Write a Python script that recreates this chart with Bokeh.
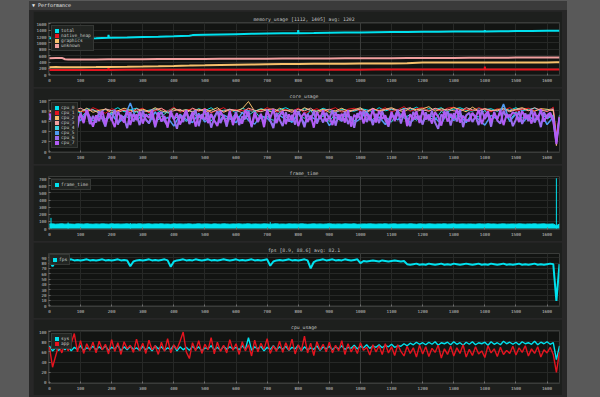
from bokeh.plotting import figure
from bokeh.layouts import column
from bokeh.models import Div, Legend, LegendItem, Span, FixedTicker, Range1d
from bokeh.embed import file_html
from bokeh.resources import INLINE

# ---------------- data ----------------
x_ticks = list(range(0, 1601, 100))

mem_frames = [0, 20, 40, 50, 60, 100, 150, 189, 190, 191, 250, 300, 350, 400, 450,
              460, 500, 550, 600, 650, 700, 750, 799, 800, 801, 850, 900, 950, 1000, 1050,
              1100, 1150, 1200, 1250, 1300, 1350, 1399, 1400, 1401, 1450, 1500, 1550, 1600, 1630, 1640]
mem_total = [1150, 1152, 1148, 1142, 1140, 1140, 1150, 1160, 1250, 1160,
             1172, 1185, 1195, 1210, 1228, 1245, 1255, 1265, 1275, 1285,
             1295, 1302, 1306, 1405, 1306, 1312, 1320, 1325, 1330, 1335,
             1340, 1345, 1350, 1352, 1355, 1358, 1360, 1400, 1360, 1365,
             1370, 1372, 1378, 1380, 1385]
mem_native_heap = [150, 150, 151, 152, 152, 154, 155, 156, 240, 156,
                   157, 158, 158, 159, 160, 160, 160, 161, 161, 162,
                   162, 162, 163, 163, 163, 163, 164, 164, 164, 165,
                   165, 165, 166, 166, 166, 166, 167, 260, 167, 167,
                   167, 168, 168, 168, 168]
mem_graphics = [240, 245, 242, 236, 235, 238, 244, 250, 250, 250,
                255, 262, 270, 280, 292, 295, 300, 310, 318, 325,
                332, 338, 342, 342, 342, 345, 348, 350, 352, 354,
                356, 360, 385, 386, 387, 388, 388, 388, 388, 389,
                390, 390, 391, 392, 392]
mem_unknown = [520, 525, 530, 490, 480, 482, 485, 487, 487, 487,
               490, 492, 494, 496, 498, 499, 500, 502, 504, 506,
               508, 510, 512, 512, 512, 514, 516, 518, 520, 522,
               524, 526, 528, 530, 532, 534, 536, 536, 536, 538,
               540, 542, 544, 545, 546]
mem_names = ["total", "native_heap", "graphics", "unknown"]

# cores 0-5 sampled every 20 frames, cores 6-7 every 10 frames
core_frames = list(range(0, 1621, 20)) + [1630, 1640]
step_frames = list(range(0, 1641, 10))
cpu_0 = [80, 83, 78, 85, 81, 76, 84, 82, 77, 83, 80, 86,
         78, 82, 85, 79, 81, 84, 76, 80, 85, 79, 82, 78,
         84, 80, 86, 77, 81, 83, 76, 85, 80, 79, 84, 81,
         78, 82, 86, 80, 77, 84, 81, 79, 85, 80, 76, 83,
         81, 79, 84, 82, 78, 86, 80, 83, 79, 85, 81, 87,
         80, 84, 82, 86, 78, 83, 86, 81, 79, 85, 82, 84,
         79, 84, 81, 86, 80, 83, 85, 79, 82, 84, 30, 72]
cpu_1 = [77, 81, 85, 76, 83, 79, 77, 86, 81, 75, 84, 80,
         82, 78, 81, 85, 76, 80, 84, 79, 87, 77, 81, 84,
         79, 84, 76, 81, 86, 78, 82, 80, 84, 76, 80, 86,
         81, 77, 83, 79, 85, 76, 80, 84, 78, 82, 86, 77,
         83, 85, 80, 77, 84, 81, 86, 78, 82, 88, 79, 84,
         86, 80, 84, 79, 85, 87, 81, 83, 80, 86, 82, 78,
         84, 81, 86, 79, 83, 85, 80, 84, 78, 87, 35, 70]
cpu_2 = [81, 76, 84, 79, 82, 78, 85, 77, 81, 83, 76, 80,
         85, 81, 78, 83, 79, 86, 80, 76, 84, 80, 82, 78,
         83, 78, 81, 86, 77, 82, 80, 84, 98, 79, 83, 81,
         76, 85, 80, 82, 78, 86, 81, 79, 83, 77, 80, 85,
         79, 82, 86, 77, 84, 80, 83, 86, 81, 78, 85, 82,
         84, 88, 79, 84, 81, 86, 83, 78, 87, 80, 84, 80,
         82, 85, 80, 83, 86, 81, 79, 84, 83, 80, 12, 68]
cpu_3 = [78, 83, 80, 76, 81, 85, 79, 82, 75, 84, 80, 77,
         81, 76, 84, 80, 78, 82, 85, 77, 80, 83, 75, 85,
         80, 84, 77, 82, 79, 83, 81, 76, 85, 81, 78, 82,
         84, 79, 81, 77, 83, 80, 85, 76, 81, 83, 79, 80,
         77, 81, 83, 79, 85, 78, 82, 84, 80, 83, 86, 79,
         82, 79, 85, 81, 83, 80, 78, 86, 82, 80, 84, 81,
         80, 83, 78, 82, 84, 80, 86, 81, 79, 83, 28, 66]
cpu_4 = [68, 62, 75, 58, 71, 66, 79, 60, 73, 64, 77, 57,
         70, 65, 80, 61, 74, 56, 69, 78, 63, 72, 59, 76,
         66, 74, 60, 79, 67, 62, 75, 58, 71, 80, 64, 69,
         61, 77, 68, 57, 73, 65, 81, 62, 70, 59, 75, 67,
         72, 60, 78, 66, 63, 76, 69, 58, 80, 65, 73, 61,
         74, 67, 62, 79, 70, 64, 77, 59, 72, 68, 81, 63,
         69, 75, 61, 78, 66, 72, 58, 76, 64, 71, 25, 67]
cpu_5 = [64, 58, 72, 54, 68, 61, 76, 52, 70, 59, 74, 56,
         66, 95, 62, 71, 55, 78, 60, 67, 50, 73, 63, 57,
         75, 58, 69, 53, 72, 65, 57, 77, 61, 54, 70, 66,
         52, 71, 63, 58, 76, 55, 68, 62, 74, 51, 67, 60,
         70, 57, 64, 79, 59, 68, 53, 73, 62, 76, 56, 69,
         58, 72, 66, 54, 78, 61, 70, 57, 75, 63, 52, 71,
         64, 93, 59, 74, 56, 69, 62, 77, 53, 68, 22, 63]
cpu_6 = [62, 78, 55, 74, 50, 69, 80, 58, 72, 47, 76, 60, 81, 54, 70,
         57, 79, 64, 49, 75, 61, 82, 53, 71, 66, 46, 77, 59, 73, 52,
         80, 63, 56, 74, 48, 70, 78, 60, 51, 76, 65, 45, 72, 58, 79,
         54, 68, 81, 50, 73, 62, 77, 47, 66, 79, 56, 71, 49, 75, 60,
         78, 52, 69, 64, 80, 48, 74, 58, 71, 55, 82, 61, 46, 76, 63,
         50, 77, 59, 72, 53, 79, 66, 48, 74, 62, 80, 55, 70, 57, 76,
         65, 81, 51, 73, 60, 78, 54, 69, 47, 75, 63, 80, 58, 72, 52,
         74, 56, 79, 62, 49, 71, 67, 82, 55, 76, 60, 50, 78, 64, 70,
         53, 77, 61, 80, 57, 45, 73, 66, 79, 51, 75, 59, 82, 48, 71,
         76, 58, 69, 52, 81, 64, 74, 49, 78, 61, 55, 80, 67, 72, 50,
         63, 79, 54, 75, 60, 82, 57, 71, 48, 77, 65, 73, 59, 20, 66]
cpu_7 = [75, 58, 81, 64, 52, 77, 68, 50, 79, 61, 73, 56, 82, 66, 49,
         71, 60, 80, 54, 76, 63, 48, 78, 67, 57, 81, 52, 74, 62, 79,
         55, 73, 66, 82, 51, 77, 59, 70, 47, 80, 63, 75, 53, 68, 81,
         60, 78, 49, 72, 65, 83, 56, 74, 61, 50, 79, 67, 57, 80, 52,
         72, 63, 55, 81, 69, 51, 77, 60, 74, 48, 79, 66, 83, 56, 71,
         79, 54, 73, 61, 82, 50, 68, 76, 58, 71, 47, 78, 64, 81, 59,
         68, 52, 77, 63, 74, 57, 81, 49, 72, 66, 79, 55, 76, 61, 83,
         57, 80, 64, 71, 53, 78, 60, 75, 67, 82, 50, 73, 62, 79, 56,
         81, 63, 72, 55, 77, 68, 51, 80, 59, 74, 65, 83, 57, 70, 62,
         60, 76, 66, 82, 54, 71, 79, 58, 75, 63, 81, 52, 73, 68, 77,
         74, 58, 80, 65, 72, 55, 78, 62, 83, 59, 71, 76, 64, 15, 68]
core_names = ["cpu_0", "cpu_1", "cpu_2", "cpu_3", "cpu_4", "cpu_5", "cpu_6", "cpu_7"]

frame_time = [63, 66, 61, 64, 67, 62, 65, 63, 60, 66, 64, 62, 67, 63, 61,
              65, 62, 66, 64, 61, 67, 63, 65, 62, 64, 66, 60, 65, 63, 67,
              62, 64, 66, 61, 65, 63, 67, 62, 64, 60, 66, 63, 65, 62, 64,
              66, 61, 63, 67, 62, 65, 64, 60, 66, 63, 62, 67, 64, 61, 65,
              63, 66, 62, 64, 67, 61, 65, 63, 62, 66, 64, 60, 65, 67, 62,
              64, 61, 66, 63, 65, 62, 67, 64, 60, 63, 66, 62, 65, 61, 64,
              67, 63, 62, 65, 61, 66, 64, 63, 67, 60, 62, 65, 63, 66, 64,
              61, 65, 63, 67, 62, 64, 66, 61, 63, 65, 62, 67, 64, 60, 66,
              63, 62, 66, 64, 61, 65, 63, 67, 62, 64, 66, 61, 63, 65, 62,
              65, 63, 61, 66, 64, 62, 67, 63, 65, 60, 64, 66, 62, 63, 65,
              62, 66, 64, 61, 65, 63, 67, 62, 64, 66, 61, 63, 65, 40, 64]
spike_frames = [5, 60, 260, 710, 1630]
spike_values = [150, 85, 78, 90, 705]

fps = [86, 74, 84, 85, 86, 85, 86, 87, 85, 86, 85, 86, 87, 85, 86,
       85, 86, 87, 85, 86, 85, 86, 87, 85, 86, 85, 74, 83, 85, 86,
       85, 86, 87, 85, 86, 85, 86, 87, 85, 73, 83, 85, 86, 87, 85,
       86, 85, 87, 86, 85, 86, 87, 85, 86, 85, 86, 87, 86, 85, 86,
       87, 85, 86, 85, 86, 87, 85, 86, 85, 86, 87, 75, 83, 85, 86,
       85, 86, 87, 85, 86, 85, 86, 87, 85, 70, 82, 85, 86, 87, 85,
       86, 87, 85, 86, 85, 87, 86, 85, 86, 87, 80, 84, 83, 84, 85,
       84, 83, 85, 84, 83, 84, 85, 84, 83, 84, 78, 77, 78, 79, 77,
       78, 77, 79, 78, 77, 78, 79, 77, 78, 77, 79, 78, 77, 78, 79,
       78, 77, 78, 79, 77, 78, 77, 79, 78, 77, 78, 79, 77, 78, 77,
       78, 79, 77, 78, 77, 78, 79, 77, 78, 77, 78, 79, 78, 9, 78]

cpu_sys = [72, 62, 68, 63, 70, 64, 71, 62, 69, 65, 72, 63, 68, 66, 71,
           64, 70, 65, 72, 63, 69, 66, 73, 62, 70, 64, 71, 65, 68, 63,
           71, 64, 69, 62, 72, 66, 70, 63, 68, 65, 73, 62, 70, 64, 69,
           63, 71, 65, 70, 62, 68, 66, 72, 64, 69, 63, 71, 65, 70, 66,
           69, 64, 72, 65, 88, 63, 70, 66, 71, 62, 69, 65, 72, 64, 70,
           65, 71, 63, 69, 66, 73, 62, 70, 64, 68, 65, 72, 63, 70, 66,
           71, 64, 70, 66, 72, 65, 69, 67, 73, 66, 71, 68, 74, 67, 72,
           69, 74, 68, 73, 70, 75, 69, 72, 71, 76, 72, 77, 74, 79, 75,
           78, 74, 79, 75, 80, 73, 78, 76, 79, 74, 80, 75, 78, 73, 79,
           75, 80, 74, 78, 76, 79, 73, 80, 75, 78, 74, 81, 76, 79, 75,
           79, 74, 80, 76, 78, 75, 81, 74, 79, 76, 80, 75, 78, 45, 72]
cpu_app = [70, 30, 52, 74, 58, 80, 62, 77, 96, 60, 82, 57, 76, 63, 79,
           58, 81, 64, 75, 56, 84, 61, 78, 55, 80, 66, 73, 59, 85, 62,
           77, 57, 83, 64, 72, 55, 79, 61, 86, 58, 74, 65, 81, 99, 60,
           47, 78, 62, 82, 57, 75, 64, 88, 56, 79, 61, 73, 58, 84, 63,
           76, 55, 80, 62, 74, 52, 83, 60, 77, 65, 86, 57, 72, 61, 81,
           59, 78, 63, 85, 56, 74, 62, 91, 58, 77, 53, 80, 64, 75, 60,
           79, 58, 73, 62, 82, 55, 76, 60, 71, 57, 78, 63, 69, 54, 74,
           60, 72, 55, 76, 58, 70, 53, 74, 61, 52, 71, 57, 68, 50, 73,
           56, 70, 51, 67, 59, 73, 48, 66, 55, 71, 52, 68, 57, 74, 50,
           65, 53, 70, 56, 62, 49, 72, 58, 66, 51, 69, 55, 63, 57, 71,
           54, 68, 59, 72, 52, 66, 57, 70, 50, 64, 58, 69, 55, 20, 60]

# ---------------- style ----------------
FONT = "DejaVu Sans Mono"
PAGE_BG = "#595959"
PANEL_BG = "#272727"
TITLEBAR_BG = "#3b3b3b"
FRAME_BG = "#1d1f1d"
PLOT_BG = "#121412"
GRID = "#262826"
TEXT = "#c4c4c4"

CYAN = "#00e1ee"
RED = "#e5141f"
ORANGE = "#f8c16c"
PINK = "#f1a0a0"
core_colors = [CYAN, RED, ORANGE, PINK, "#3ad6e6", "#4f9cf5", "#9b6cf0", "#b25cf5"]
core_widths = [1, 1, 1, 1, 1, 1.5, 2, 2]


def make_fig(title, y_start, y_end, y_ticks):
    p = figure(width=529, height=76, x_range=Range1d(-3, 1640), y_range=Range1d(y_start, y_end),
               output_backend="svg", toolbar_location=None,
               min_border_left=15, min_border_right=3, min_border_top=11, min_border_bottom=12,
               margin=(1, 0, 0, 4),
               background_fill_color=PLOT_BG, border_fill_color=FRAME_BG,
               outline_line_color="#3a3c3a")
    p.title.text = title
    p.title.align = "center"
    p.title.text_font = FONT
    p.title.text_font_size = "4.8px"
    p.title.text_font_style = "normal"
    p.title.text_color = TEXT
    p.title.standoff = 1
    for ax in (p.xaxis[0], p.yaxis[0]):
        ax.axis_line_color = None
        ax.major_tick_in = 2
        ax.major_tick_out = 0
        ax.major_tick_line_color = "#707070"
        ax.minor_tick_line_color = None
        ax.major_label_text_font = FONT
        ax.major_label_text_font_size = "4.2px"
        ax.major_label_text_color = TEXT
        ax.major_label_standoff = 2
    p.xaxis.ticker = FixedTicker(ticks=x_ticks)
    p.yaxis.ticker = FixedTicker(ticks=y_ticks)
    p.grid.grid_line_color = GRID
    p.add_layout(Span(location=1000, dimension="height", line_color="#3c3e3c",
                      line_width=1, level="underlay"))
    return p


def add_legend(p, names, colors, xs, ys_list, margin=3):
    items = []
    for n, c, ys in zip(names, colors, ys_list):
        # zero-area swatch anchored at the series' first sample, used only by the legend
        r = p.quad(left=[xs[0]], right=[xs[0]], top=[ys[0]], bottom=[ys[0]],
                   fill_color=c, line_color=None)
        items.append(LegendItem(label=n, renderers=[r]))
    leg = Legend(items=items, location="top_left", margin=margin, padding=2, spacing=0,
                 glyph_width=5, glyph_height=5, label_height=5, label_width=8, label_standoff=2,
                 label_text_font=FONT, label_text_font_size="4.5px", label_text_color=TEXT,
                 background_fill_color="#232523", background_fill_alpha=0.95,
                 border_line_color="#4a4c4a", border_line_width=1)
    p.add_layout(leg)


# memory
p1 = make_fig("memory_usage [1112, 1405] avg: 1202", -20, 1640, list(range(0, 1601, 200)))
mem_series = [mem_total, mem_native_heap, mem_graphics, mem_unknown]
for ys, c in zip(mem_series, [CYAN, RED, ORANGE, PINK]):
    p1.line(mem_frames, ys, line_color=c, line_width=2)
add_legend(p1, mem_names, [CYAN, RED, ORANGE, PINK], mem_frames, mem_series)

# core usage
p2 = make_fig("core_usage", -1.5, 102, list(range(0, 101, 20)))
core_series = [cpu_0, cpu_1, cpu_2, cpu_3, cpu_4, cpu_5, cpu_6, cpu_7]
for ys, c, w in zip(core_series, core_colors, core_widths):
    xs = step_frames if len(ys) == len(step_frames) else core_frames
    p2.line(xs, ys, line_color=c, line_width=w)
add_legend(p2, core_names, core_colors, core_frames, core_series)

# frame time
p3 = make_fig("frame_time", -13, 730, list(range(0, 701, 100)))
p3.varea(x=step_frames, y1=[0] * len(step_frames), y2=frame_time, fill_color=CYAN)
p3.line(step_frames, frame_time, line_color=CYAN, line_width=1)
p3.segment(x0=spike_frames, y0=[0] * len(spike_frames), x1=spike_frames, y1=spike_values,
           line_color=CYAN, line_width=1)
add_legend(p3, ["frame_time"], [CYAN], step_frames, [frame_time])

# fps
p4 = make_fig("fps [8.9, 88.6] avg: 82.1", -1.5, 98, list(range(0, 91, 10)))
p4.line(step_frames, fps, line_color=CYAN, line_width=2)
add_legend(p4, ["fps"], [CYAN], step_frames, [fps], margin=1)

# cpu usage
p5 = make_fig("cpu_usage", -2, 102, list(range(0, 101, 20)))
p5.line(step_frames, cpu_sys, line_color=CYAN, line_width=1.4)
p5.line(step_frames, cpu_app, line_color=RED, line_width=1.4)
add_legend(p5, ["sys", "app"], [CYAN, RED], step_frames, [cpu_sys, cpu_app])

titlebar = Div(text="\u25bc Performance", width=538, height=9, margin=(0, 0, 0, 0),
               styles={"background-color": TITLEBAR_BG, "color": "#e6e6e6",
                       "font-family": FONT, "font-size": "5px", "line-height": "9px",
                       "padding-left": "3px", "box-sizing": "border-box"})

panel = column(titlebar, p1, p2, p3, p4, p5, width=538, height=396, margin=(1, 33, 0, 29),
               styles={"background-color": PANEL_BG})
layout = column(panel, width=600, height=397, styles={"background-color": PAGE_BG})

open("out.html", "w").write(file_html(layout, INLINE))
